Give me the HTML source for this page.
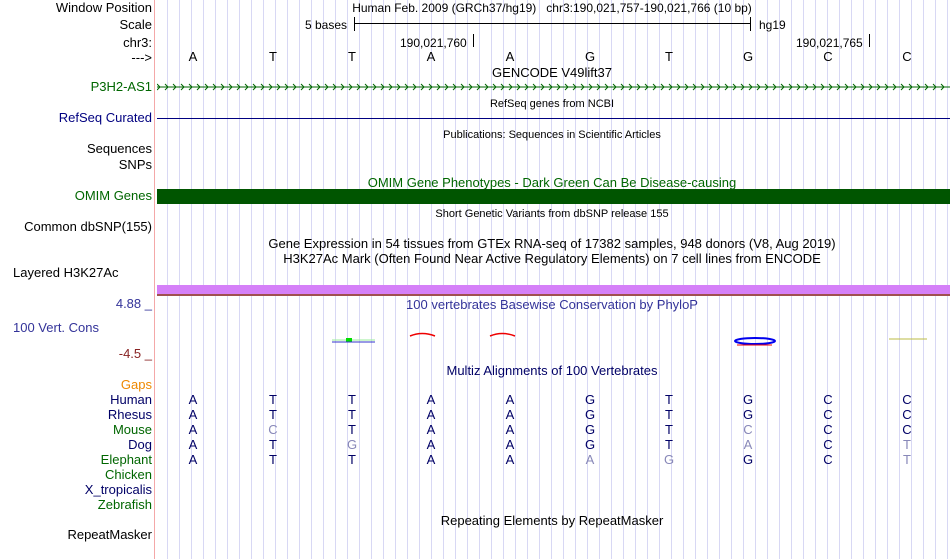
<!DOCTYPE html>
<html><head><meta charset="utf-8"><style>
body{margin:0;width:950px;height:559px;background:#fff;position:relative;overflow:hidden;font-family:"Liberation Sans",sans-serif;font-size:13px;}
.grid{position:absolute;left:156px;top:0;width:794px;height:559px;background:repeating-linear-gradient(to right,transparent 0,transparent 11px,#d8d8f4 11px,#d8d8f4 12px);}
.red{position:absolute;left:154px;top:0;width:1px;height:559px;background:#f4a8a8;}
.l{position:absolute;right:798px;white-space:nowrap;line-height:14px;}
.t{position:absolute;white-space:nowrap;line-height:14px;}
.c{position:absolute;transform:translateX(-50%);line-height:14px;white-space:nowrap;}
.s{font-size:11px;}
.b{position:absolute;width:10px;text-align:center;margin-left:-5px;line-height:14px;color:#000066;}
.g{color:#8888b8;}
</style></head><body>
<div class="grid"></div><div class="red"></div>

<div class="l" style="top:1px">Window Position</div>
<div class="l" style="top:18px">Scale</div>
<div class="l" style="top:36px">chr3:</div>
<div class="l" style="top:51px">---&gt;</div>
<div class="l" style="top:80px;color:#006600">P3H2-AS1</div>
<div class="l" style="top:111px;color:#000080">RefSeq Curated</div>
<div class="l" style="top:142px">Sequences</div>
<div class="l" style="top:158px">SNPs</div>
<div class="l" style="top:189px;color:#006600">OMIM Genes</div>
<div class="l" style="top:220px">Common dbSNP(155)</div>
<div class="t" style="top:266px;left:13px">Layered H3K27Ac</div>
<div class="l" style="top:297px;color:#333399">4.88 _</div>
<div class="t" style="top:321px;left:13px;color:#333399">100 Vert. Cons</div>
<div class="l" style="top:347px;color:#882222">-4.5 _</div>
<div class="l" style="top:378px;color:#ee8800">Gaps</div>
<div class="l" style="top:393px;color:#000066">Human</div>
<div class="l" style="top:408px;color:#000066">Rhesus</div>
<div class="l" style="top:423px;color:#006600">Mouse</div>
<div class="l" style="top:438px;color:#000066">Dog</div>
<div class="l" style="top:453px;color:#006600">Elephant</div>
<div class="l" style="top:468px;color:#006600">Chicken</div>
<div class="l" style="top:483px;color:#000066">X_tropicalis</div>
<div class="l" style="top:498px;color:#006600">Zebrafish</div>
<div class="l" style="top:528px">RepeatMasker</div>

<div class="c" style="top:1px;left:552px;font-size:12px">Human Feb. 2009 (GRCh37/hg19)&nbsp;&nbsp; chr3:190,021,757-190,021,766 (10 bp)</div>
<div class="t" style="top:18px;left:305px;font-size:12px">5 bases</div>
<div style="position:absolute;left:354px;top:17px;width:1px;height:14px;background:#000"></div>
<div style="position:absolute;left:354px;top:23px;width:396px;height:1px;background:#000"></div>
<div style="position:absolute;left:750px;top:17px;width:1px;height:14px;background:#000"></div>
<div class="t" style="top:18px;left:759px;font-size:12px">hg19</div>
<div class="t" style="top:36px;left:400px;font-size:12px">190,021,760</div>
<div style="position:absolute;left:473px;top:34px;width:1px;height:13px;background:#000"></div>
<div class="t" style="top:36px;left:796px;font-size:12px">190,021,765</div>
<div style="position:absolute;left:869px;top:34px;width:1px;height:13px;background:#000"></div>

<div class="b" style="top:50px;left:193px;color:#000">A</div><div class="b" style="top:50px;left:273px;color:#000">T</div><div class="b" style="top:50px;left:352px;color:#000">T</div><div class="b" style="top:50px;left:431px;color:#000">A</div><div class="b" style="top:50px;left:510px;color:#000">A</div><div class="b" style="top:50px;left:590px;color:#000">G</div><div class="b" style="top:50px;left:669px;color:#000">T</div><div class="b" style="top:50px;left:748px;color:#000">G</div><div class="b" style="top:50px;left:828px;color:#000">C</div><div class="b" style="top:50px;left:907px;color:#000">C</div>

<div class="c" style="top:66px;left:552px">GENCODE V49lift37</div>
<svg style="position:absolute;left:157px;top:82px" width="793" height="10">
<line x1="0" y1="5" x2="793" y2="5" stroke="#006600"/>
<path d="M0,2 L3,5 L0,8 M8,2 L11,5 L8,8 M16,2 L19,5 L16,8 M24,2 L27,5 L24,8 M32,2 L35,5 L32,8 M40,2 L43,5 L40,8 M48,2 L51,5 L48,8 M56,2 L59,5 L56,8 M64,2 L67,5 L64,8 M72,2 L75,5 L72,8 M80,2 L83,5 L80,8 M88,2 L91,5 L88,8 M96,2 L99,5 L96,8 M104,2 L107,5 L104,8 M112,2 L115,5 L112,8 M120,2 L123,5 L120,8 M128,2 L131,5 L128,8 M136,2 L139,5 L136,8 M144,2 L147,5 L144,8 M152,2 L155,5 L152,8 M160,2 L163,5 L160,8 M168,2 L171,5 L168,8 M176,2 L179,5 L176,8 M184,2 L187,5 L184,8 M192,2 L195,5 L192,8 M200,2 L203,5 L200,8 M208,2 L211,5 L208,8 M216,2 L219,5 L216,8 M224,2 L227,5 L224,8 M232,2 L235,5 L232,8 M240,2 L243,5 L240,8 M248,2 L251,5 L248,8 M256,2 L259,5 L256,8 M264,2 L267,5 L264,8 M272,2 L275,5 L272,8 M280,2 L283,5 L280,8 M288,2 L291,5 L288,8 M296,2 L299,5 L296,8 M304,2 L307,5 L304,8 M312,2 L315,5 L312,8 M320,2 L323,5 L320,8 M328,2 L331,5 L328,8 M336,2 L339,5 L336,8 M344,2 L347,5 L344,8 M352,2 L355,5 L352,8 M360,2 L363,5 L360,8 M368,2 L371,5 L368,8 M376,2 L379,5 L376,8 M384,2 L387,5 L384,8 M392,2 L395,5 L392,8 M400,2 L403,5 L400,8 M408,2 L411,5 L408,8 M416,2 L419,5 L416,8 M424,2 L427,5 L424,8 M432,2 L435,5 L432,8 M440,2 L443,5 L440,8 M448,2 L451,5 L448,8 M456,2 L459,5 L456,8 M464,2 L467,5 L464,8 M472,2 L475,5 L472,8 M480,2 L483,5 L480,8 M488,2 L491,5 L488,8 M496,2 L499,5 L496,8 M504,2 L507,5 L504,8 M512,2 L515,5 L512,8 M520,2 L523,5 L520,8 M528,2 L531,5 L528,8 M536,2 L539,5 L536,8 M544,2 L547,5 L544,8 M552,2 L555,5 L552,8 M560,2 L563,5 L560,8 M568,2 L571,5 L568,8 M576,2 L579,5 L576,8 M584,2 L587,5 L584,8 M592,2 L595,5 L592,8 M600,2 L603,5 L600,8 M608,2 L611,5 L608,8 M616,2 L619,5 L616,8 M624,2 L627,5 L624,8 M632,2 L635,5 L632,8 M640,2 L643,5 L640,8 M648,2 L651,5 L648,8 M656,2 L659,5 L656,8 M664,2 L667,5 L664,8 M672,2 L675,5 L672,8 M680,2 L683,5 L680,8 M688,2 L691,5 L688,8 M696,2 L699,5 L696,8 M704,2 L707,5 L704,8 M712,2 L715,5 L712,8 M720,2 L723,5 L720,8 M728,2 L731,5 L728,8 M736,2 L739,5 L736,8 M744,2 L747,5 L744,8 M752,2 L755,5 L752,8 M760,2 L763,5 L760,8 M768,2 L771,5 L768,8 M776,2 L779,5 L776,8 M784,2 L787,5 L784,8" stroke="#006600" fill="none"/>
</svg>
<div class="c s" style="top:97px;left:552px">RefSeq genes from NCBI</div>
<div style="position:absolute;left:157px;top:118px;width:793px;height:1px;background:#000080"></div>
<div class="c s" style="top:128px;left:552px">Publications: Sequences in Scientific Articles</div>
<div class="c" style="top:176px;left:552px;color:#006600">OMIM Gene Phenotypes - Dark Green Can Be Disease-causing</div>
<div style="position:absolute;left:157px;top:189px;width:793px;height:15px;background:#005500"></div>
<div class="c s" style="top:207px;left:552px">Short Genetic Variants from dbSNP release 155</div>
<div class="c" style="top:237px;left:552px">Gene Expression in 54 tissues from GTEx RNA-seq of 17382 samples, 948 donors (V8, Aug 2019)</div>
<div class="c" style="top:252px;left:552px">H3K27Ac Mark (Often Found Near Active Regulatory Elements) on 7 cell lines from ENCODE</div>
<div style="position:absolute;left:157px;top:285px;width:793px;height:9px;background:#d580f8"></div>
<div style="position:absolute;left:157px;top:294px;width:793px;height:2px;background:#a05050"></div>
<div class="c" style="top:298px;left:552px;color:#333399">100 vertebrates Basewise Conservation by PhyloP</div>
<svg style="position:absolute;left:157px;top:328px" width="793" height="22">
<line x1="175" y1="12" x2="218" y2="12" stroke="#99ee99"/><rect x="189" y="10" width="6" height="4" fill="#00dd00"/><line x1="175" y1="14" x2="218" y2="14" stroke="#3333cc"/>
<path d="M253,8 Q265,3 278,8" stroke="#ee0000" fill="none" stroke-width="1.5"/>
<path d="M333,8 Q345,3 358,8" stroke="#ee0000" fill="none" stroke-width="1.5"/>
<ellipse cx="598" cy="13" rx="20" ry="3" stroke="#0000ee" fill="none" stroke-width="2"/>
<line x1="580" y1="17" x2="615" y2="17" stroke="#ee0000"/>
<line x1="732" y1="11" x2="770" y2="11" stroke="#bbbb44"/>
</svg>
<div class="c" style="top:364px;left:552px;color:#000066">Multiz Alignments of 100 Vertebrates</div>

<div class="b" style="top:393px;left:193px">A</div><div class="b" style="top:393px;left:273px">T</div><div class="b" style="top:393px;left:352px">T</div><div class="b" style="top:393px;left:431px">A</div><div class="b" style="top:393px;left:510px">A</div><div class="b" style="top:393px;left:590px">G</div><div class="b" style="top:393px;left:669px">T</div><div class="b" style="top:393px;left:748px">G</div><div class="b" style="top:393px;left:828px">C</div><div class="b" style="top:393px;left:907px">C</div>
<div class="b" style="top:408px;left:193px">A</div><div class="b" style="top:408px;left:273px">T</div><div class="b" style="top:408px;left:352px">T</div><div class="b" style="top:408px;left:431px">A</div><div class="b" style="top:408px;left:510px">A</div><div class="b" style="top:408px;left:590px">G</div><div class="b" style="top:408px;left:669px">T</div><div class="b" style="top:408px;left:748px">G</div><div class="b" style="top:408px;left:828px">C</div><div class="b" style="top:408px;left:907px">C</div>
<div class="b" style="top:423px;left:193px">A</div><div class="b g" style="top:423px;left:273px">C</div><div class="b" style="top:423px;left:352px">T</div><div class="b" style="top:423px;left:431px">A</div><div class="b" style="top:423px;left:510px">A</div><div class="b" style="top:423px;left:590px">G</div><div class="b" style="top:423px;left:669px">T</div><div class="b g" style="top:423px;left:748px">C</div><div class="b" style="top:423px;left:828px">C</div><div class="b" style="top:423px;left:907px">C</div>
<div class="b" style="top:438px;left:193px">A</div><div class="b" style="top:438px;left:273px">T</div><div class="b g" style="top:438px;left:352px">G</div><div class="b" style="top:438px;left:431px">A</div><div class="b" style="top:438px;left:510px">A</div><div class="b" style="top:438px;left:590px">G</div><div class="b" style="top:438px;left:669px">T</div><div class="b g" style="top:438px;left:748px">A</div><div class="b" style="top:438px;left:828px">C</div><div class="b g" style="top:438px;left:907px">T</div>
<div class="b" style="top:453px;left:193px">A</div><div class="b" style="top:453px;left:273px">T</div><div class="b" style="top:453px;left:352px">T</div><div class="b" style="top:453px;left:431px">A</div><div class="b" style="top:453px;left:510px">A</div><div class="b g" style="top:453px;left:590px">A</div><div class="b g" style="top:453px;left:669px">G</div><div class="b" style="top:453px;left:748px">G</div><div class="b" style="top:453px;left:828px">C</div><div class="b g" style="top:453px;left:907px">T</div>

<div class="c" style="top:514px;left:552px">Repeating Elements by RepeatMasker</div>
</body></html>
